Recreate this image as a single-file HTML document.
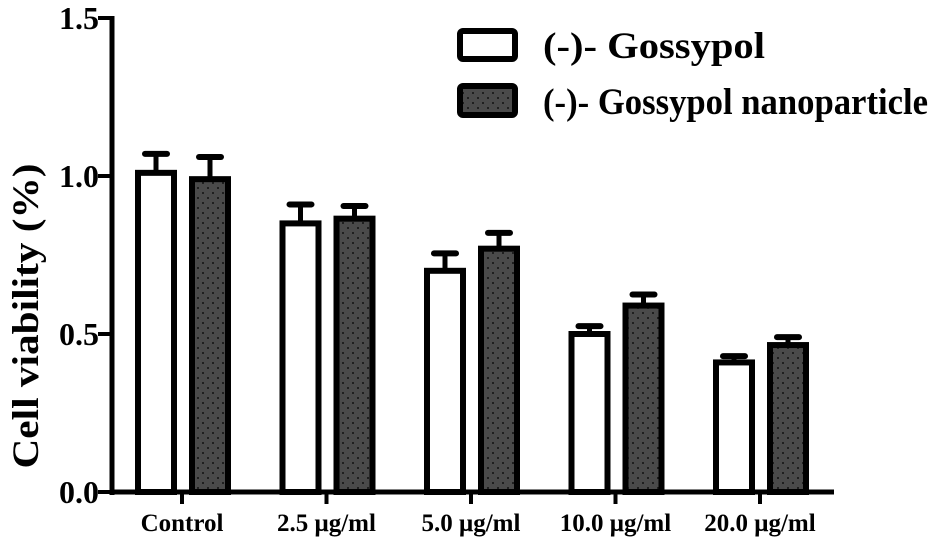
<!DOCTYPE html>
<html><head><meta charset="utf-8"><style>
html,body{margin:0;padding:0;background:#fff;}
svg{display:block;font-family:"Liberation Serif",serif;font-weight:bold;}
</style></head><body>
<svg id="chart" width="945" height="540" viewBox="0 0 945 540">
<defs>
<pattern id="dots" width="10" height="10" patternUnits="userSpaceOnUse">
<rect width="10" height="10" fill="#4a4a4a"/>
<circle cx="3" cy="3" r="1" fill="#111"/>
<circle cx="8" cy="8" r="1" fill="#111"/>
</pattern>
</defs>
<g id="axes"></g>
<g id="bars"></g>
<g>
<rect x="460" y="31" width="55" height="28" rx="3" fill="#fff" stroke="#000" stroke-width="6"/>
<text x="543" y="58" font-size="37" textLength="222" lengthAdjust="spacingAndGlyphs">(-)- Gossypol</text>
<rect x="460" y="86" width="55" height="29" rx="3" fill="url(#dots)" stroke="#000" stroke-width="6"/>
<text x="543" y="114" font-size="37" textLength="385" lengthAdjust="spacingAndGlyphs">(-)- Gossypol nanoparticle</text>
</g>
<text transform="translate(38,316) rotate(-90)" text-anchor="middle" font-size="37" textLength="305" lengthAdjust="spacingAndGlyphs">Cell viability (%)</text>
</svg>
<script>
const categories = ["Control","2.5 μg/ml","5.0 μg/ml","10.0 μg/ml","20.0 μg/ml"];
const gossypol = [1.01, 0.85, 0.70, 0.50, 0.41];
const gossypolErr = [0.06, 0.06, 0.055, 0.025, 0.02];
const nano = [0.99, 0.865, 0.77, 0.59, 0.465];
const nanoErr = [0.07, 0.04, 0.05, 0.035, 0.025];
const yTicks = [0.0, 0.5, 1.0, 1.5];
const yTickLabels = ["0.0","0.5","1.0","1.5"];

const NS = "http://www.w3.org/2000/svg";
const y0 = 492, unit = 316, axisX = 112;
function y(v){ return y0 - v*unit; }
function xc(i){ return 182 + i*144.5; }
function mk(tag, attrs, parent){
  const e = document.createElementNS(NS, tag);
  for (const k in attrs) e.setAttribute(k, attrs[k]);
  parent.appendChild(e);
  return e;
}
const axes = document.getElementById('axes');
const bars = document.getElementById('bars');
let el = mk('line',{x1:axisX,y1:y(1.5)-2,x2:axisX,y2:y0+3,stroke:'#000','stroke-width':5},axes);


el = mk('line',{x1:axisX-2,y1:y0,x2:834,y2:y0,stroke:'#000','stroke-width':5},axes);


yTicks.forEach((t,i)=>{
  const tk = mk('line',{x1:axisX-14,y1:y(t),x2:axisX,y2:y(t),stroke:'#000','stroke-width':4},axes);
  
  
  const tl = mk('text',{x:axisX-13,y:y(t)+11,'text-anchor':'end','font-size':32},axes);
  tl.textContent = yTickLabels[i];
  
  
});
categories.forEach((c,i)=>{
  const tk = mk('line',{x1:xc(i),y1:y0,x2:xc(i),y2:y0+12,stroke:'#000','stroke-width':4},axes);
  
  
  const tl = mk('text',{x:xc(i),y:531,'text-anchor':'middle','font-size':25},axes);
  tl.textContent = c;
  
  
  [[gossypol,gossypolErr,-44,'#fff','bar-gossypol'],[nano,nanoErr,10,'url(#dots)','bar-nanoparticle']].forEach(s=>{
    const v = s[0][i], e = s[1][i], bx = xc(i)+s[2];
    const eb = mk('line',{x1:bx+18,y1:y(v),x2:bx+18,y2:y(v+e),stroke:'#000','stroke-width':5},bars);
    
    
    const cap = mk('line',{x1:bx+7,y1:y(v+e),x2:bx+29,y2:y(v+e),stroke:'#000','stroke-width':6,'stroke-linecap':'round'},bars);
    
    
    const r = mk('rect',{x:bx,y:y(v),width:36,height:y0-y(v),fill:s[3],stroke:'#000','stroke-width':6},bars);
    
    
  });
});
</script>
</body></html>
